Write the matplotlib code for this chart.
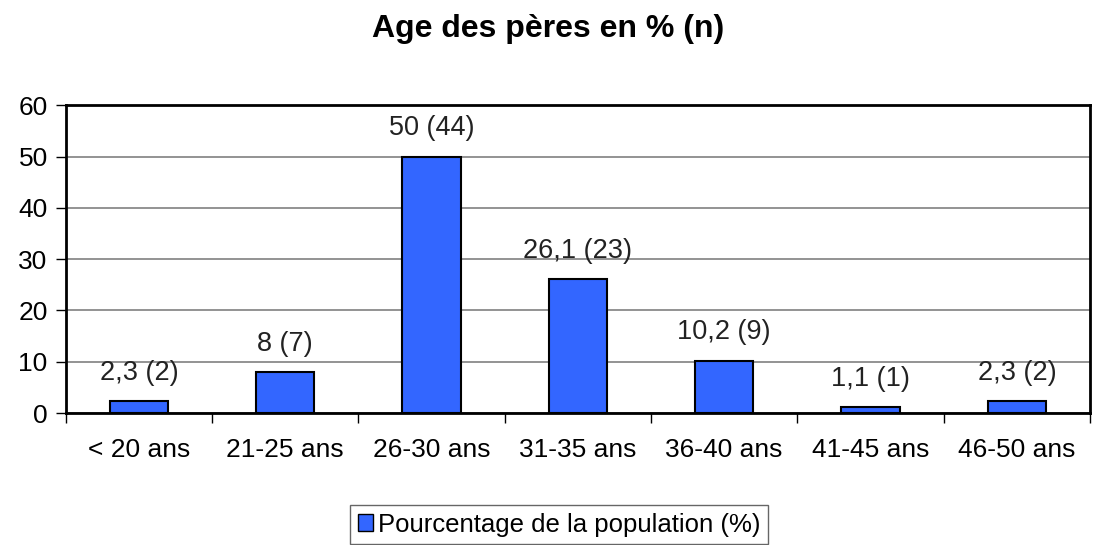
import numpy as np
import matplotlib.pyplot as plt
from matplotlib.patches import Patch

categories = ['< 20 ans', '21-25 ans', '26-30 ans', '31-35 ans',
              '36-40 ans', '41-45 ans', '46-50 ans']
pct = [2.3, 8, 50, 26.1, 10.2, 1.1, 2.3]
counts = [2, 7, 44, 23, 9, 1, 2]
bar_labels = ['2,3 (2)', '8 (7)', '50 (44)', '26,1 (23)',
              '10,2 (9)', '1,1 (1)', '2,3 (2)']

plt.rcParams['font.family'] = ['Liberation Sans', 'DejaVu Sans']

fig = plt.figure(figsize=(10.96, 5.45), dpi=100)
ax = fig.add_axes([0.060, 0.242, 0.9345, 0.565])

x = np.arange(len(categories))
color = '#3366FF'
bars = ax.bar(x, pct, width=0.4, color=color, edgecolor='black', linewidth=1.5, zorder=3)

for xi, v, lab in zip(x, pct, bar_labels):
    ax.text(xi, v + 3.0, lab, ha='center', va='bottom', fontsize=19.5, color='#222222')

ax.set_xlim(-0.5, len(categories) - 0.5)
ax.set_ylim(0, 60)
ax.set_yticks(np.arange(0, 61, 10))
ax.yaxis.grid(True, color='#808080', linewidth=1.2, zorder=0)
ax.tick_params(axis='y', labelsize=19, direction='out', length=7, width=1, pad=6)

ax.set_xticks(x)
ax.set_xticklabels(categories)
ax.set_xticks(np.arange(-0.5, len(categories), 1), minor=True)
ax.tick_params(axis='x', which='major', length=0, labelsize=19, pad=18)
ax.tick_params(axis='x', which='minor', length=7, width=1, direction='out')

for s in ax.spines.values():
    s.set_linewidth(2)
    s.set_color('black')

fig.suptitle('Age des pères en % (n)', fontsize=23, fontweight='bold', y=0.975)

handle = Patch(facecolor=color, edgecolor='black', linewidth=1)
leg = fig.legend([handle], ['Pourcentage de la population (%)'],
                 loc='upper left', bbox_to_anchor=(350 / 1096, 1 - 505 / 545),
                 fontsize=18.5, frameon=True, fancybox=False, edgecolor='#404040',
                 handlelength=0.6, handleheight=0.6, handletextpad=0.2,
                 borderpad=0.3, borderaxespad=0)
leg.get_frame().set_linewidth(1)

fig.savefig('out.png', dpi=100)
